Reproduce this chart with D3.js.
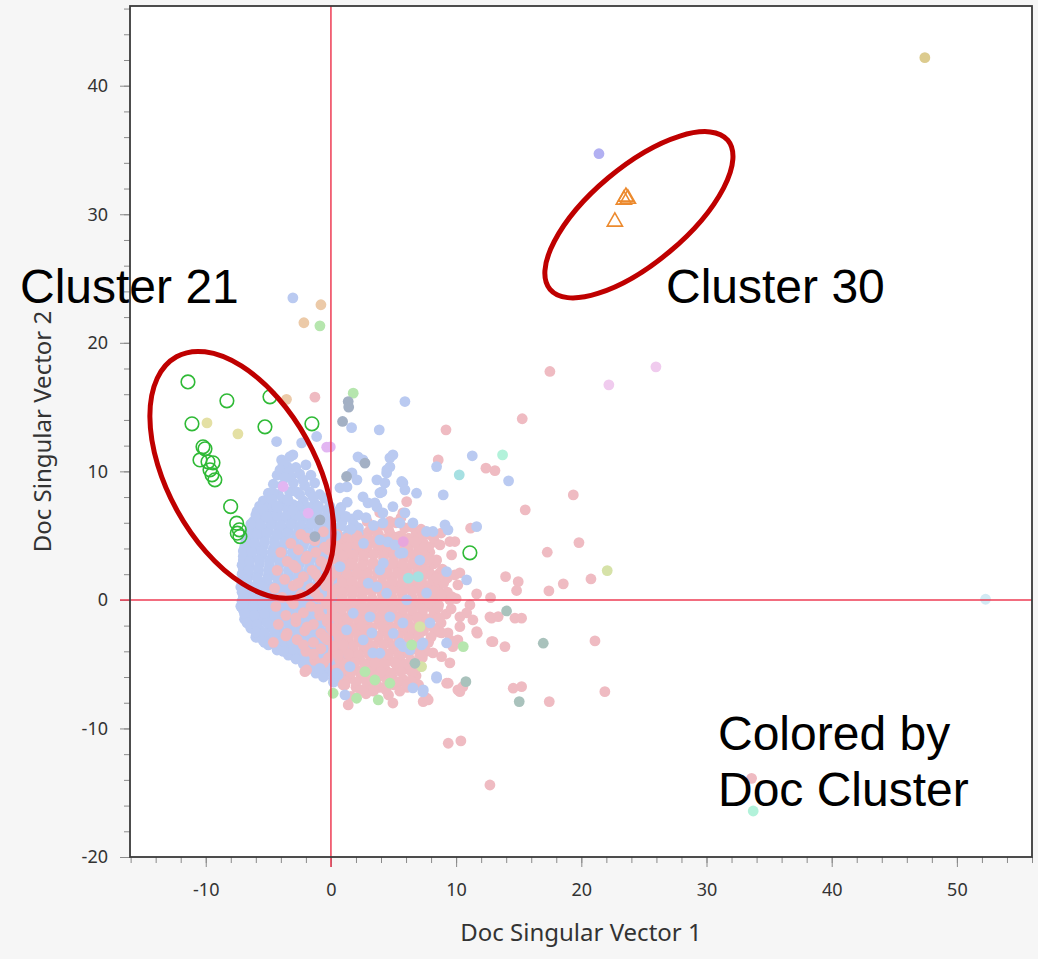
<!DOCTYPE html>
<html>
<head>
<meta charset="utf-8">
<script src="https://cdn.jsdelivr.net/npm/d3@7"></script>
<style>
  html, body { margin: 0; padding: 0; background: #f6f6f6; }
  svg { display: block; }
</style>
</head>
<body>
<svg id="chart" width="1038" height="959"></svg>
<script>
// --- --- --- Data (data units) --- --- ---

const xTicks = [-10, 0, 10, 20, 30, 40, 50];
const yTicks = [-20, -10, 0, 10, 20, 30, 40];

// dense light-blue doc cluster
const blueDocs = [
  [-5.4,7.7],[-4.6,7.5],[-3.8,7.8],[-3.0,7.4],[-2.2,7.7],[-1.3,7.5],[-0.5,7.9],
  [-5.9,6.9],[-5.1,7.0],[-4.3,6.8],[-3.5,7.1],[-2.7,6.8],[-1.9,7.0],[-1.1,6.8],[-0.3,7.0],[0.6,6.9],
  [-6.2,6.1],[-5.5,6.3],[-4.7,6.1],[-3.9,6.3],[-3.1,6.1],[-2.3,6.3],[-1.5,6.1],[-0.7,6.2],[0.1,6.3],[0.9,6.1],[1.7,6.3],
  [-6.5,5.4],[-5.8,5.6],[-5.0,5.4],[-4.2,5.6],[-3.4,5.4],[-2.6,5.6],[-1.8,5.4],[-1.0,5.6],[-0.2,5.4],[0.6,5.6],[1.4,5.4],[2.2,5.6],
  [-6.8,4.8],[-6.1,4.7],[-5.3,4.9],[-4.5,4.7],[-3.7,4.9],[-2.9,4.7],[-2.1,4.9],[-1.3,4.7],[-0.5,4.9],[0.3,4.7],[1.1,4.9],[1.9,4.7],[2.7,4.9],
  [-6.9,4.1],[-6.2,4.0],[-5.4,4.2],[-4.6,4.0],[-3.8,4.2],[-3.0,4.0],[-2.2,4.2],[-1.4,4.0],[-0.6,4.2],[0.2,4.0],[1.0,4.2],[1.8,4.0],[2.6,4.2],
  [-7.0,3.4],[-6.3,3.3],[-5.5,3.5],[-4.7,3.3],[-3.9,3.5],[-3.1,3.3],[-2.3,3.5],[-1.5,3.3],[-0.7,3.5],[0.1,3.3],[0.9,3.5],[1.7,3.3],
  [-7.1,2.7],[-6.5,2.6],[-5.7,2.8],[-4.9,2.6],[-4.1,2.8],[-3.3,2.6],[-2.5,2.8],[-1.7,2.6],[-0.9,2.8],[-0.1,2.6],[0.7,2.8],[1.5,2.6],
  [-7.1,2.0],[-6.6,1.9],[-5.8,2.1],[-5.0,1.9],[-4.2,2.1],[-3.4,1.9],[-2.6,2.1],[-1.8,1.9],[-1.0,2.1],[-0.2,1.9],[0.6,2.1],[1.4,1.9],
  [-7.1,1.3],[-6.6,1.2],[-5.8,1.4],[-5.0,1.2],[-4.2,1.4],[-3.4,1.2],[-2.6,1.4],[-1.8,1.2],[-1.0,1.4],[-0.2,1.2],[0.6,1.4],
  [-7.1,0.6],[-6.6,0.5],[-5.8,0.7],[-5.0,0.5],[-4.2,0.7],[-3.4,0.5],[-2.6,0.7],[-1.8,0.5],[-1.0,0.7],[-0.2,0.5],[0.6,0.7],
  [-7.1,-0.1],[-6.6,-0.2],[-5.8,0.0],[-5.0,-0.2],[-4.2,0.0],[-3.4,-0.2],[-2.6,0.0],[-1.8,-0.2],[-1.0,0.0],[-0.2,-0.2],[0.6,0.0],
  [-7.0,-0.8],[-6.5,-0.9],[-5.7,-0.7],[-4.9,-0.9],[-4.1,-0.7],[-3.3,-0.9],[-2.5,-0.7],[-1.7,-0.9],[-0.9,-0.7],[-0.1,-0.9],[0.7,-0.7],
  [-6.9,-1.5],[-6.3,-1.6],[-5.5,-1.4],[-4.7,-1.6],[-3.9,-1.4],[-3.1,-1.6],[-2.3,-1.4],[-1.5,-1.6],[-0.7,-1.4],[0.1,-1.6],[0.9,-1.4],
  [-6.4,-2.2],[-5.7,-2.3],[-4.9,-2.1],[-4.1,-2.3],[-3.3,-2.1],[-2.5,-2.3],[-1.7,-2.1],[-0.9,-2.3],[-0.1,-2.1],[0.7,-2.3],
  [-5.9,-2.9],[-5.1,-3.0],[-4.3,-2.8],[-3.5,-3.0],[-2.7,-2.8],[-1.9,-3.0],[-1.1,-2.8],[-0.3,-3.0],[0.5,-2.8],[1.3,-3.0],
  [-5.0,-3.5],[-4.2,-3.7],[-3.4,-3.5],[-2.6,-3.7],[-1.8,-3.5],[-1.0,-3.7],[-0.2,-3.5],[0.6,-3.7],[1.4,-3.5],
  [-3.4,-4.3],[-2.6,-4.2],[-1.8,-4.4],[-1.0,-4.2],[-0.2,-4.4],[0.6,-4.2],[1.4,-4.4],
  [-2.2,-5.0],[-1.4,-4.9],[-0.6,-5.1],[0.2,-4.9],[1.0,-5.1],
  [-1.2,-5.7],[-0.4,-5.6],[0.4,-5.8],[1.2,-5.6],
  [0.2,-6.4],[0.9,-6.5],
  [-7.2,1.0],[-7.2,-0.5],[-6.0,-2.9],[-5.3,-3.3],
  [-5.0,8.3],[-4.2,8.2],[-3.3,8.4],[-2.5,8.2],[-1.7,8.4],[-0.9,8.2],
  [-4.6,9.0],[-3.9,8.9],[-3.0,9.1],[-2.1,8.9],[-1.3,9.1],
  [-4.3,9.7],[-3.2,9.6],[-2.5,9.8],[-1.6,9.7],
  [-3.5,10.4],[-2.8,10.3],[-2.0,10.5],
  [-5.7,7.3],[-5.0,7.2],[-4.2,7.3],[-3.4,7.2],[-2.6,7.3],[-1.8,7.2],[-1.0,7.3],[-0.1,7.3],[0.8,7.2],
  [-6.0,6.6],[-5.2,6.5],[-4.4,6.6],[-3.6,6.5],[-2.8,6.6],[-2.0,6.5],[-1.2,6.6],[-0.4,6.5],[0.4,6.6],[1.2,6.5],
  [-6.4,5.9],[-5.6,5.8],[-4.8,5.9],[-4.0,5.8],[-3.2,5.9],[-2.4,5.8],[-1.6,5.9],[-0.8,5.8],[0.0,5.9],[0.8,5.8],[1.8,5.9],
  [-6.6,5.2],[-5.9,5.1],[-5.1,5.2],[-4.3,5.1],[-3.5,5.2],[-2.7,5.1],[-1.9,5.2],[-1.1,5.1],[-0.3,5.2],[0.5,5.1],[1.5,5.2],[2.4,5.1],
  [-6.8,4.5],[-6.1,4.4],[-5.3,4.5],[-4.5,4.4],[-3.7,4.5],[-2.9,4.4],[-2.1,4.5],[-1.3,4.4],[-0.5,4.5],[0.3,4.4],[1.1,4.5],[2.0,4.4],
  [-7.0,3.8],[-6.3,3.7],[-5.5,3.8],[-4.7,3.7],[-3.9,3.8],[-3.1,3.7],[-2.3,3.8],[-1.5,3.7],[-0.7,3.8],[0.1,3.7],[0.9,3.8],
  [-7.0,3.1],[-6.5,3.0],[-5.7,3.1],[-4.9,3.0],[-4.1,3.1],[-3.3,3.0],[-2.5,3.1],[-1.7,3.0],[-0.9,3.1],[-0.1,3.0],[0.8,3.1],
  [-7.0,2.4],[-6.6,2.3],[-5.8,2.4],[-5.0,2.3],[-4.2,2.4],[-3.4,2.3],[-2.6,2.4],[-1.8,2.3],[-1.0,2.4],[-0.2,2.3],
  [-7.0,1.7],[-6.7,1.6],[-5.9,1.7],[-5.1,1.6],[-4.3,1.7],[-3.5,1.6],[-2.7,1.7],[-1.9,1.6],[-1.1,1.7],[-0.3,1.6],
  [-7.0,1.0],[-6.2,0.9],[-5.4,1.0],[-4.6,0.9],[-3.8,1.0],[-3.0,0.9],[-2.2,1.0],[-1.4,0.9],[-0.6,1.0],[0.2,0.9],
  [-7.0,0.3],[-6.2,0.2],[-5.4,0.3],[-4.6,0.2],[-3.8,0.3],[-3.0,0.2],[-2.2,0.3],[-1.4,0.2],[-0.6,0.3],[0.2,0.2],
  [-7.0,-0.4],[-6.2,-0.5],[-5.4,-0.4],[-4.6,-0.5],[-3.8,-0.4],[-3.0,-0.5],[-2.2,-0.4],[-1.4,-0.5],[-0.6,-0.4],[0.2,-0.5],
  [-6.9,-1.1],[-6.1,-1.2],[-5.3,-1.1],[-4.5,-1.2],[-3.7,-1.1],[-2.9,-1.2],[-2.1,-1.1],[-1.3,-1.2],[-0.5,-1.1],[0.3,-1.2],
  [-6.7,-1.8],[-5.9,-1.9],[-5.1,-1.8],[-4.3,-1.9],[-3.5,-1.8],[-2.7,-1.9],[-1.9,-1.8],[-1.1,-1.9],[-0.3,-1.8],[0.5,-1.9],
  [-6.0,-2.5],[-5.3,-2.6],[-4.5,-2.5],[-3.7,-2.6],[-2.9,-2.5],[-2.1,-2.6],[-1.3,-2.5],[-0.5,-2.6],[0.3,-2.5],[1.1,-2.6],
  [-5.4,-3.2],[-4.7,-3.3],[-3.9,-3.2],[-3.1,-3.3],[-2.3,-3.2],[-1.5,-3.3],[-0.7,-3.2],[0.1,-3.3],[0.9,-3.2],
  [-4.3,-3.9],[-3.8,-4.0],[-3.0,-3.9],[-2.2,-4.0],[-1.4,-3.9],[-0.6,-4.0],[0.2,-3.9],[1.0,-4.0],
  [-2.8,-4.6],[-2.0,-4.7],[-1.2,-4.6],[-0.4,-4.7],[0.4,-4.6],[1.2,-4.7],
  [-1.7,-5.3],[-0.9,-5.4],[-0.1,-5.3],[0.7,-5.4],
  [-0.6,-6.0],[0.2,-6.1],[1.0,-6.0]
];

// dense pink doc cluster
const pinkDocs = [
  [3.9,6.8],[5.6,6.4],
  [2.9,6.1],[4.0,5.8],[5.2,6.0],[6.4,5.7],
  [-2.4,5.1],[-0.6,5.3],[0.5,5.1],[2.1,5.0],[3.0,5.3],[3.8,5.1],[4.7,5.2],[5.6,5.0],[6.8,5.3],[7.8,5.1],[8.8,5.2],
  [-3.2,4.4],[-1.3,4.6],[0.0,4.4],[0.9,4.6],[1.7,4.4],[2.5,4.6],[3.3,4.5],[4.1,4.3],[5.0,4.6],[5.8,4.4],[6.6,4.6],[7.4,4.4],[8.3,4.5],
  [-4.0,3.7],[-2.6,3.9],[-1.2,3.7],[-0.2,3.9],[0.6,3.8],[1.4,3.6],[2.2,3.9],[3.0,3.7],[3.8,3.9],[4.6,3.7],[5.4,3.9],[6.2,3.7],[7.0,3.9],[7.9,3.7],
  [-3.5,3.0],[-2.0,3.2],[-0.8,3.0],[0.2,3.2],[1.0,3.0],[1.8,3.2],[2.6,3.1],[3.4,2.9],[4.2,3.2],[5.0,3.0],[5.8,3.2],[6.6,3.0],[7.4,3.2],[8.4,3.0],
  [-4.3,2.3],[-2.8,2.5],[-1.5,2.3],[-0.4,2.5],[0.5,2.3],[1.3,2.5],[2.1,2.4],[2.9,2.2],[3.7,2.5],[4.5,2.3],[5.3,2.5],[6.1,2.3],[6.9,2.5],[7.8,2.3],[8.9,2.4],
  [-3.7,1.6],[-2.2,1.8],[-0.9,1.6],[0.0,1.8],[0.9,1.6],[1.7,1.8],[2.5,1.7],[3.3,1.5],[4.1,1.8],[4.9,1.6],[5.7,1.8],[6.5,1.6],[7.3,1.8],[8.2,1.6],[9.3,1.7],
  [-4.5,0.9],[-3.0,1.1],[-1.6,0.9],[-0.4,1.1],[0.5,0.9],[1.3,1.1],[2.1,1.0],[2.9,0.8],[3.7,1.1],[4.5,0.9],[5.3,1.1],[6.1,0.9],[6.9,1.1],[7.7,0.9],[8.6,1.0],
  [-3.9,0.2],[-2.4,0.4],[-1.0,0.2],[0.1,0.4],[0.9,0.2],[1.7,0.4],[2.5,0.3],[3.3,0.1],[4.1,0.4],[4.9,0.2],[5.7,0.4],[6.5,0.2],[7.3,0.4],[8.1,0.2],[9.0,0.3],[10.0,0.1],
  [-4.4,-0.5],[-3.0,-0.3],[-1.6,-0.5],[-0.4,-0.3],[0.5,-0.5],[1.3,-0.3],[2.1,-0.4],[2.9,-0.6],[3.7,-0.3],[4.5,-0.5],[5.3,-0.3],[6.1,-0.5],[6.9,-0.3],[7.7,-0.5],[8.6,-0.4],
  [-3.6,-1.2],[-2.2,-1.0],[-0.9,-1.2],[0.1,-1.0],[0.9,-1.2],[1.7,-1.0],[2.5,-1.1],[3.3,-1.3],[4.1,-1.0],[4.9,-1.2],[5.7,-1.0],[6.5,-1.2],[7.3,-1.0],[8.2,-1.2],[9.2,-1.1],
  [-4.2,-1.9],[-2.8,-1.7],[-1.4,-1.9],[-0.3,-1.7],[0.6,-1.9],[1.4,-1.7],[2.2,-1.8],[3.0,-2.0],[3.8,-1.7],[4.6,-1.9],[5.4,-1.7],[6.2,-1.9],[7.0,-1.7],[7.9,-1.9],[8.8,-1.8],
  [-3.5,-2.6],[-2.1,-2.4],[-0.8,-2.6],[0.2,-2.4],[1.0,-2.6],[1.8,-2.4],[2.6,-2.5],[3.4,-2.7],[4.2,-2.4],[5.0,-2.6],[5.8,-2.4],[6.6,-2.6],[7.4,-2.4],[8.6,-2.5],
  [-4.6,-3.3],[-2.7,-3.1],[-1.4,-3.3],[-0.3,-3.1],[0.6,-3.3],[1.4,-3.1],[2.2,-3.2],[3.0,-3.4],[3.8,-3.1],[4.6,-3.3],[5.4,-3.1],[6.2,-3.3],[7.0,-3.1],[7.8,-3.3],
  [-2.0,-4.0],[-0.8,-3.8],[0.2,-4.0],[1.0,-3.8],[1.8,-4.0],[2.6,-3.8],[3.4,-3.9],[4.2,-4.1],[5.0,-3.8],[5.8,-4.0],[6.7,-3.8],[7.6,-4.0],
  [-1.3,-4.7],[-0.2,-4.5],[0.7,-4.7],[1.5,-4.5],[2.3,-4.6],[3.1,-4.8],[3.9,-4.5],[4.7,-4.7],[5.5,-4.5],[6.4,-4.7],[7.3,-4.5],
  [0.4,-5.4],[1.2,-5.2],[2.0,-5.4],[2.8,-5.2],[3.6,-5.3],[4.4,-5.5],[5.3,-5.2],[6.2,-5.4],[7.0,-5.2],
  [1.5,-6.1],[2.4,-5.9],[3.2,-6.1],[4.0,-5.9],[4.9,-6.0],[5.8,-6.2],[6.8,-5.9],
  [2.0,-6.8],[3.0,-6.6],[3.9,-6.8],[5.0,-6.6],[6.1,-6.8],[7.0,-6.6],
  [1.6,-7.5],[2.8,-7.3],[4.6,-7.4],
  [4.7,6.1],
  [3.4,5.6],[4.6,5.5],[5.9,5.6],[7.2,5.5],
  [-1.9,4.8],[1.3,4.8],[2.9,4.8],[3.7,4.9],[4.5,4.8],[5.3,4.9],[6.2,4.8],[7.2,4.9],[8.2,4.8],
  [-0.5,4.1],[0.5,4.2],[1.3,4.1],[2.1,4.2],[2.9,4.1],[3.7,4.2],[4.5,4.1],[5.4,4.2],[6.2,4.1],[7.0,4.2],[7.8,4.1],
  [-1.9,3.4],[0.2,3.5],[1.0,3.4],[1.8,3.5],[2.6,3.4],[3.4,3.5],[4.2,3.4],[5.0,3.5],[5.8,3.4],[6.6,3.5],[7.5,3.4],
  [-3.0,2.7],[-0.2,2.8],[0.9,2.7],[1.7,2.8],[2.5,2.7],[3.3,2.8],[4.1,2.7],[4.9,2.8],[5.7,2.7],[6.5,2.8],[7.3,2.7],[8.2,2.8],
  [-1.2,2.0],[0.4,2.1],[1.3,2.0],[2.1,2.1],[2.9,2.0],[3.7,2.1],[4.5,2.0],[5.3,2.1],[6.1,2.0],[6.9,2.1],[7.8,2.0],[8.7,2.1],
  [-2.6,1.3],[-0.2,1.4],[0.9,1.3],[1.7,1.4],[2.5,1.3],[3.3,1.4],[4.1,1.3],[4.9,1.4],[5.7,1.3],[6.5,1.4],[7.3,1.3],[8.1,1.4],[9.0,1.3],
  [-1.3,0.6],[0.1,0.7],[0.9,0.6],[1.7,0.7],[2.5,0.6],[3.3,0.7],[4.1,0.6],[4.9,0.7],[5.7,0.6],[6.5,0.7],[7.3,0.6],[8.2,0.7],[9.3,0.6],
  [-3.2,0.0],[-0.2,-0.1],[0.9,0.0],[1.7,-0.1],[2.5,0.0],[3.3,-0.1],[4.1,0.0],[4.9,-0.1],[5.7,0.0],[6.5,-0.1],[7.3,0.0],[8.2,-0.1],[9.5,0.0],
  [-1.0,-0.7],[0.1,-0.8],[0.9,-0.7],[1.7,-0.8],[2.5,-0.7],[3.3,-0.8],[4.1,-0.7],[4.9,-0.8],[5.7,-0.7],[6.5,-0.8],[7.3,-0.7],[8.2,-0.8],[9.6,-0.7],
  [-2.8,-1.4],[-0.3,-1.5],[0.5,-1.4],[1.3,-1.5],[2.1,-1.4],[2.9,-1.5],[3.7,-1.4],[4.5,-1.5],[5.3,-1.4],[6.1,-1.5],[6.9,-1.4],[7.7,-1.5],[8.6,-1.4],
  [-1.9,-2.1],[0.0,-2.2],[0.9,-2.1],[1.7,-2.2],[2.5,-2.1],[3.3,-2.2],[4.1,-2.1],[4.9,-2.2],[5.7,-2.1],[6.5,-2.2],[7.3,-2.1],[8.2,-2.2],
  [-3.6,-2.8],[-0.5,-2.9],[0.6,-2.8],[1.4,-2.9],[2.2,-2.8],[3.0,-2.9],[3.8,-2.8],[4.6,-2.9],[5.4,-2.8],[6.2,-2.9],[7.0,-2.8],[8.0,-2.9],
  [-2.2,-3.5],[0.2,-3.6],[1.0,-3.5],[1.8,-3.6],[2.6,-3.5],[3.4,-3.6],[4.2,-3.5],[5.0,-3.6],[5.8,-3.5],[6.6,-3.6],[7.5,-3.5],
  [-1.4,-4.2],[0.6,-4.3],[1.4,-4.2],[2.2,-4.3],[3.0,-4.2],[3.8,-4.3],[4.6,-4.2],[5.4,-4.3],[6.2,-4.2],[7.1,-4.3],
  [-0.6,-4.9],[1.1,-5.0],[1.9,-4.9],[2.7,-5.0],[3.5,-4.9],[4.3,-5.0],[5.1,-4.9],[5.9,-5.0],[6.8,-4.9],
  [0.8,-5.6],[1.6,-5.7],[2.4,-5.6],[3.2,-5.7],[4.0,-5.6],[4.8,-5.7],[5.6,-5.6],[6.5,-5.7],
  [1.1,-6.3],[2.0,-6.4],[2.8,-6.3],[3.6,-6.4],[4.5,-6.3],[5.4,-6.4],[6.4,-6.3],
  [2.4,-7.0],[3.4,-7.1],[4.4,-7.0],[5.5,-7.1]
];

// pink docs scattered around the cloud
const pinkOutliers = [
  [-1.28,15.77],[8.57,10.89],[9.19,13.23],[12.38,10.25],[13.1,10.06],[15.28,14.09],[17.49,17.77],
  [19.36,8.17],[15.52,7.0],[19.81,4.46],[17.28,3.71],[11.16,5.58],[20.77,1.63],[18.56,1.25],
  [17.41,0.70],[14.96,1.42],[14.83,0.73],[13.95,1.81],[14.70,-1.42],[15.23,-1.42],[12.83,-1.42],
  [13.36,-1.3],[12.83,-3.24],[13.9,-3.63],[21.09,-3.19],[14.56,-6.87],[15.23,-6.75],[17.44,-7.91],
  [21.88,-7.14],[10.30,-7.14],[9.37,-6.48],[9.37,-11.15],[10.38,-10.97],[12.70,-14.40],[33.6,-13.88],
  [12.75,0.18],[11.64,0.47],[11.69,-2.59],[6.05,7.65],[5.75,6.77],[9.5,4.54],[9.9,4.54],[8.71,4.28],
  [7.35,4.05],[6.71,4.51],[9.64,3.5],[8.44,3.11],[7.75,3.11],[7.51,2.33],[8.04,1.95],[8.44,1.71],
  [9.90,1.95],[10.3,2.1],[10.14,1.17],[8.84,0.39],[9.64,0.26],[7.91,-0.23],[8.55,-0.62],[11.1,-0.39],
  [10.84,-1.01],[11.34,-1.56],[12.7,-1.32],[10.3,-1.32],[11.64,-2.47],[10.3,-2.08],[12.94,-3.25],
  [9.5,-3.11],[9.35,-2.57],[8.84,-2.57],[8.15,-4.12],[8.84,-4.41],[9.5,-4.9],[10.14,-3.11],[9.74,-3.63],
  [10.14,-7.0],[10.54,-6.75],[7.64,-7.63],[4.95,-8.02],[-2.08,-5.58],[0.98,-6.61],[1.38,-8.17],
  [6.05,-6.61],[7.37,-7.91],[7.77,-7.78],[9.24,-6.48],[1.12,-6.61],[-1.94,-5.45]
];

// blue docs visible on top of the pink ones / scattered
const blueOutliers = [
  [-3.04,23.5],[5.91,15.43],[3.86,13.23],[1.65,13.4],[-1.14,12.71],[-4.34,12.32],[-2.34,12.22],
  [-3.04,11.28],[-3.94,10.89],[-3.27,11.15],[-3.83,10.51],[-4.07,10.12],[-3.43,9.88],[-3.67,9.49],
  [-2.24,9.34],[-2.72,8.40],[-4.63,8.33],[-4.71,7.78],[-4.31,7.24],[-3.43,7.78],[-3.04,7.0],
  [-5.43,7.0],[-5.11,6.46],[-1.44,8.02],[-1.04,7.24],[0.72,8.72],[1.28,8.79],[2.16,11.13],[2.56,10.89],
  [4.71,11.05],[4.95,11.28],[1.68,9.88],[2.08,9.34],[3.67,9.34],[4.47,10.12],[4.07,8.40],[2.56,8.02],
  [2.96,7.55],[0.72,7.0],[2.16,6.61],[3.67,7.24],[4.15,6.77],[5.75,9.1],[6.84,8.30],[4.95,7.26],
  [4.71,10.35],[4.45,9.88],[4.31,9.1],[5.65,9.21],[5.91,8.56],[8.97,8.17],[3.51,7.55],[3.91,8.33],
  [5.91,6.77],[4.15,5.99],[5.51,5.99],[6.55,5.99],[7.64,5.32],[8.15,5.32],[9.11,5.84],[9.35,5.45],
  [11.64,5.70],[11.29,11.21],[8.44,10.37],[14.19,9.26],[4.55,4.51],[5.11,4.28],[9.24,2.2],[10.84,1.56],
  [8.44,-6.09],[6.55,-6.85],[7.35,-7.16],[-0.88,-5.32],[0.58,-5.84],[1.12,-7.39],[7.24,-3.5],[5.51,-3.37],
  [5.75,3.66],[3.91,2.33],[3.67,1.01],[6.05,0.0],[4.71,-1.32],[5.75,-1.79],[7.91,-1.79],[7.35,-3.35],
  [6.31,-3.89],[9.24,-3.35],[3.12,-1.32],[3.27,-2.57],[3.35,-4.12],[7.64,0.54],[7.1,3.1],[3.91,4.67],
  [5.51,3.63],[4.18,2.86],[2.98,1.3],[4.45,0.52],[1.25,-2.33],[2.58,-3.11],[4.98,-2.6],[3.91,-4.15],
  [5.78,-3.63],[1.52,-5.19],[0.45,-5.7],[7.38,-7.0],[8.44,-5.97],[0.72,2.59],[1.78,-1.04],
  [1.3,7.6],[2.8,6.4],[3.4,5.8],[1.6,5.5],[0.4,5.0],[2.6,4.4]
];

// the smaller doc clusters: [cluster, x, y]
const otherDocs = [
  ["gold",47.44,42.18],["periwinkle",21.41,34.71],["ice",52.29,0.05],
  ["orchid",25.96,18.13],["orchid",22.20,16.73],
  ["tan",-0.80,22.96],["tan",-2.16,21.56],["tan",-3.55,15.6],
  ["green",-0.88,21.32],["green",1.78,16.08],
  ["cream",-9.90,13.77],["cream",-7.43,12.92],
  ["slate",0.93,13.88],["slate",1.38,15.43],["slate",1.42,15.0],["slate",2.72,10.64],
  ["slate",1.25,9.6],["slate",-0.88,6.23],["slate",-1.28,4.93],
  ["lilac",-0.34,11.88],["lilac",-0.05,11.9],["lilac",-3.81,8.82],["lilac",-1.81,6.75],
  ["magenta",5.78,4.54],
  ["teal",10.25,9.73],["teal",6.98,1.81],["teal",6.18,1.69],
  ["mint",13.71,11.28],["mint",33.73,-16.42],
  ["olive",22.07,2.28],["olive",7.11,-2.08],["olive",7.24,-5.19],
  ["sage",14.03,-0.86],["sage",16.96,-3.37],["sage",15.04,-7.91],["sage",10.78,-6.36],["sage",6.71,-4.93],
  ["green",0.18,-7.26],["green",2.05,-7.65],["green",3.78,-7.78],["green",10.57,-3.63],
  ["green",3.51,-6.23],["green",4.71,-6.48],["green",2.72,-5.58],["green",6.45,-3.5]
];

// Cluster 21 (open circles) and Cluster 30 (open triangles)
const cluster21 = [
  [-11.42,16.96],[-11.10,13.70],[-8.31,15.49],[-4.87,15.80],[-5.27,13.46],[-1.52,13.70],
  [-10.22,11.91],[-10.06,11.75],[-10.46,10.89],[-9.82,10.74],[-9.42,10.66],[-9.66,10.12],
  [-9.50,9.73],[-9.27,9.34],[-8.01,7.26],[-7.53,5.97],[-7.32,5.45],[-7.48,5.19],[-7.27,4.93],
  [11.10,3.66]
];
const cluster30 = [[23.56,31.36],[23.40,31.13],[23.72,31.21],[22.68,29.42]];

// --- --- --- Chart --- --- ---

const clusterColor = {
  gold: "#dccb8e", periwinkle: "#b2b0f2", ice: "#d2eaf4", orchid: "#f0cbee",
  tan: "#eccaa8", green: "#b6e6ae", cream: "#e4e0a4", slate: "#a3b0c4",
  lilac: "#e2b6f2", magenta: "#e8a6dc", teal: "#a6e0e2", mint: "#b2f2da",
  olive: "#d6e2a8", sage: "#a9c2bc"
};
const blueFill = "#bacaf1";
const pinkFill = "#efbbc2";
const dotR = 5.4;

const plot = { left: 130, top: 6, right: 1032, bottom: 857 };

const x = d3.scaleLinear().domain([-16.05, 56]).range([plot.left, plot.right]);
const y = d3.scaleLinear().domain([-20, 46.2]).range([plot.bottom, plot.top]);

const svg = d3.select("#chart");

svg.append("rect")
  .attr("x", plot.left).attr("y", plot.top)
  .attr("width", plot.right - plot.left).attr("height", plot.bottom - plot.top)
  .attr("fill", "#fff");

svg.append("clipPath").attr("id", "plotClip")
  .append("rect")
  .attr("x", plot.left).attr("y", plot.top)
  .attr("width", plot.right - plot.left).attr("height", plot.bottom - plot.top);

// minor ticks every 2 units
const minorX = d3.range(-16, 57, 2);
const minorY = d3.range(-20, 47, 2);
const plainNum = d => String(d);

const xAxisMinor = svg.append("g")
  .attr("transform", `translate(0,${plot.bottom})`)
  .call(d3.axisBottom(x).tickValues(minorX).tickSize(6).tickFormat(""));
const yAxisMinor = svg.append("g")
  .attr("transform", `translate(${plot.left},0)`)
  .call(d3.axisLeft(y).tickValues(minorY).tickSize(6).tickFormat(""));

const xAxis = svg.append("g")
  .attr("transform", `translate(0,${plot.bottom})`)
  .call(d3.axisBottom(x).tickValues(xTicks).tickSize(10).tickPadding(16).tickFormat(plainNum));
const yAxis = svg.append("g")
  .attr("transform", `translate(${plot.left},0)`)
  .call(d3.axisLeft(y).tickValues(yTicks).tickSize(10).tickPadding(12).tickFormat(plainNum));

[xAxisMinor, yAxisMinor, xAxis, yAxis].forEach(a => {
  a.select(".domain").remove();
  a.selectAll(".tick line").attr("stroke", "#8a8a8a").attr("stroke-width", 1);
  a.selectAll(".tick text")
    .attr("fill", "#333")
    .style("font-family", "'Noto Sans', 'Open Sans', sans-serif")
    .style("font-size", "18px");
});

const g = svg.append("g").attr("clip-path", "url(#plotClip)");

// reference lines at 0 (drawn behind the points)
svg.append("line")
  .attr("x1", x(0)).attr("x2", x(0))
  .attr("y1", plot.top).attr("y2", plot.bottom + 10)
  .attr("stroke", "#ee3c54").attr("stroke-width", 1.5);
svg.append("line")
  .attr("x1", plot.left - 10).attr("x2", plot.right)
  .attr("y1", y(0)).attr("y2", y(0))
  .attr("stroke", "#ee3c54").attr("stroke-width", 1.5);

function drawDots(data, fill) {
  g.append("g").selectAll("circle")
    .data(data)
    .join("circle")
    .attr("cx", d => x(d[0]))
    .attr("cy", d => y(d[1]))
    .attr("r", dotR)
    .attr("fill", fill);
}

drawDots(blueDocs, blueFill);
drawDots(pinkDocs, pinkFill);
drawDots(pinkOutliers, pinkFill);
drawDots(blueOutliers, blueFill);

g.append("g").selectAll("circle")
  .data(otherDocs)
  .join("circle")
  .attr("cx", d => x(d[1]))
  .attr("cy", d => y(d[2]))
  .attr("r", dotR)
  .attr("fill", d => clusterColor[d[0]]);

g.append("g").selectAll("circle")
  .data(cluster21)
  .join("circle")
  .attr("cx", d => x(d[0]))
  .attr("cy", d => y(d[1]))
  .attr("r", 6.8)
  .attr("fill", "none")
  .attr("stroke", "#2fba36")
  .attr("stroke-width", 1.6);

g.append("g").selectAll("path")
  .data(cluster30)
  .join("path")
  .attr("transform", d => `translate(${x(d[0])},${y(d[1])})`)
  .attr("d", d3.symbol(d3.symbolTriangle, 100))
  .attr("fill", "none")
  .attr("stroke", "#ec8a2e")
  .attr("stroke-width", 1.6);

// frame
svg.append("rect")
  .attr("x", plot.left).attr("y", plot.top)
  .attr("width", plot.right - plot.left).attr("height", plot.bottom - plot.top)
  .attr("fill", "none")
  .attr("stroke", "#3a3a3a")
  .attr("stroke-width", 1.8);

// axis titles
svg.append("text")
  .attr("x", (plot.left + plot.right) / 2)
  .attr("y", 941)
  .attr("text-anchor", "middle")
  .attr("fill", "#333")
  .style("font-family", "'Noto Sans', 'Open Sans', sans-serif")
  .style("font-size", "24px")
  .text("Doc Singular Vector 1");

svg.append("text")
  .attr("transform", `translate(51,${(plot.top + plot.bottom) / 2}) rotate(-90)`)
  .attr("text-anchor", "middle")
  .attr("fill", "#333")
  .style("font-family", "'Noto Sans', 'Open Sans', sans-serif")
  .style("font-size", "24px")
  .text("Doc Singular Vector 2");

// annotation ellipses (centre in data units, radii in px)
const ellipses = [
  { cx: -7.11, cy: 9.73, rx: 135, ry: 74, angle: 61 },
  { cx: 24.6, cy: 29.96, rx: 116, ry: 48, angle: -40 }
];
svg.append("g").selectAll("ellipse")
  .data(ellipses)
  .join("ellipse")
  .attr("transform", d => `translate(${x(d.cx)},${y(d.cy)}) rotate(${d.angle})`)
  .attr("rx", d => d.rx)
  .attr("ry", d => d.ry)
  .attr("fill", "none")
  .attr("stroke", "#bf0000")
  .attr("stroke-width", 5);

const notes = [
  { text: "Cluster 21", x: 20, y: 303 },
  { text: "Cluster 30", x: 666, y: 303 },
  { text: "Colored by", x: 718, y: 750 },
  { text: "Doc Cluster", x: 718, y: 806 }
];
svg.append("g").selectAll("text")
  .data(notes)
  .join("text")
  .attr("x", d => d.x)
  .attr("y", d => d.y)
  .attr("fill", "#000")
  .style("font-family", "'Liberation Sans', Arial, sans-serif")
  .style("font-size", "48px")
  .text(d => d.text);
</script>
</body>
</html>
